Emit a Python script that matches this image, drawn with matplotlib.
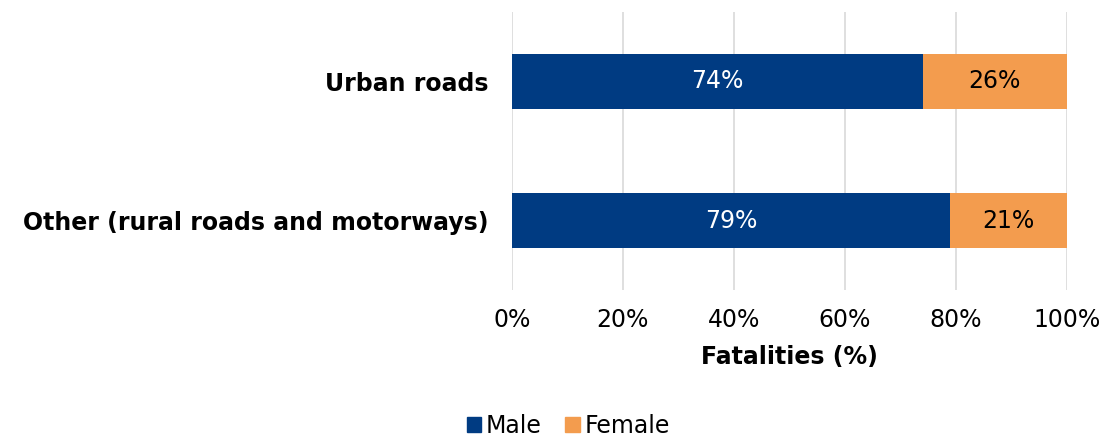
import matplotlib
matplotlib.use("Agg")
import matplotlib.pyplot as plt
from matplotlib.patches import Patch

categories = ["Other (rural roads and motorways)", "Urban roads"]
male = [79, 74]
female = [21, 26]
ticks = [0, 20, 40, 60, 80, 100]

navy = "#003B82"
orange = "#F39C4E"

plt.rcParams["font.family"] = ["DejaVu Sans"]
fs = 17

fig = plt.figure(figsize=(11.08, 4.37), dpi=100)
ax = fig.add_axes([0.462, 0.336, 0.501, 0.637])

y = range(len(categories))
ax.barh(y, male, height=0.39, color=navy)
ax.barh(y, female, left=male, height=0.39, color=orange)

for i in y:
    ax.text(male[i] / 2, i, f"{male[i]}%", ha="center", va="center", color="white", fontsize=fs)
    ax.text(male[i] + female[i] / 2, i, f"{female[i]}%", ha="center", va="center", color="black", fontsize=fs)

ax.set_xlim(0, 100)
ax.set_ylim(-0.5, 1.5)
ax.set_xticks(ticks)
ax.set_xticklabels([f"{t}%" for t in ticks], fontsize=fs)
ax.set_yticks(list(y))
ax.set_yticklabels(categories, fontsize=fs, fontweight="bold")
ax.tick_params(axis="x", length=0, pad=13)
ax.tick_params(axis="y", length=0, pad=17)
ax.grid(axis="x", color="#d9d9d9", linewidth=1.2)
ax.set_axisbelow(True)
for s in ax.spines.values():
    s.set_visible(False)
ax.set_xlabel("Fatalities (%)", fontsize=fs, fontweight="bold", labelpad=9)

handles = [Patch(color=navy, label="Male"), Patch(color=orange, label="Female")]
fig.legend(handles=handles, loc="center", bbox_to_anchor=(0.513, 0.026), ncol=2, frameon=False,
           fontsize=fs, handlelength=0.6, handleheight=0.6, handletextpad=0.2, columnspacing=1.0)

fig.savefig("out.png", dpi=100)
